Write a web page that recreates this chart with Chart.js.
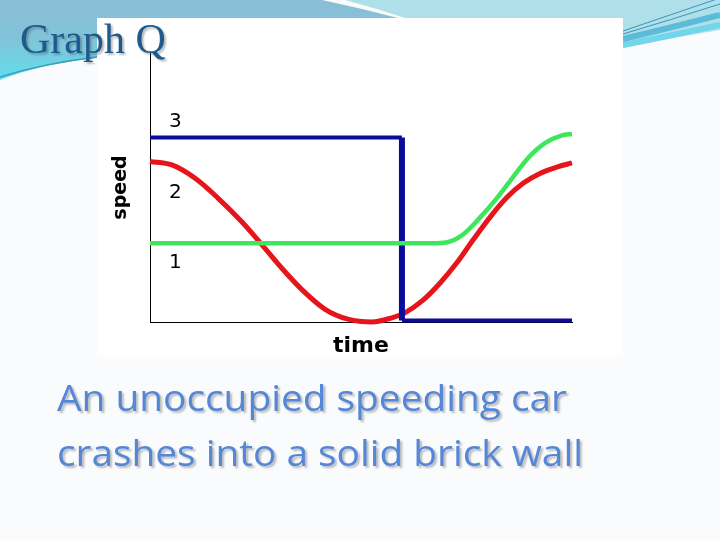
<!DOCTYPE html>
<html>
<head>
<meta charset="utf-8">
<script src="https://cdn.jsdelivr.net/npm/chart.js@4.4.1/dist/chart.umd.min.js"></script>
<style>
html,body{margin:0;padding:0;width:720px;height:540px;overflow:hidden;background:#fafbfc;}
#wrap{position:relative;width:720px;height:540px;}
#c{position:absolute;left:0;top:0;}
#title{position:absolute;left:20px;top:18px;font-family:"Liberation Serif","Times New Roman",serif;font-size:42px;line-height:42px;color:#1f5a8e;text-shadow:2px 2px 2px rgba(60,60,60,0.35);white-space:nowrap;}
#caption{position:absolute;left:57px;top:370px;font-family:"Open Sans",Lato,sans-serif;font-weight:500;font-size:36px;line-height:55px;color:#5587d8;text-shadow:2px 2px 2px rgba(90,90,90,0.4);white-space:nowrap;}
#caption .ln{transform-origin:0 0;white-space:nowrap;}
#caption .ln span{display:inline-block;}
</style>
</head>
<body>
<div id="wrap">
<canvas id="c" width="720" height="540"></canvas>
<div id="title">Graph Q</div>
<div id="caption"><div class="ln"><span>An unoccupied speeding car</span></div><div class="ln"><span>crashes into a solid brick wall</span></div></div>
</div>
<script>
// ---- data ----
const redTime   = [0.00, 0.52, 1.07, 1.61, 2.18, 2.65, 3.13, 3.60, 4.15, 4.69, 5.26, 5.73, 6.04, 6.47, 6.87, 7.27, 7.65, 8.06, 8.46, 8.84, 9.24, 9.64, 10.00];
const redSpeed  = [2.28, 2.23, 2.04, 1.76, 1.42, 1.10, 0.76, 0.46, 0.18, 0.04, 0.00, 0.06, 0.13, 0.31, 0.55, 0.84, 1.16, 1.49, 1.77, 1.97, 2.11, 2.20, 2.26];
const greenTime  = [0.00, 6.70, 7.02, 7.39, 7.77, 8.18, 8.58, 8.96, 9.36, 9.76, 10.00];
const greenSpeed = [1.12, 1.12, 1.13, 1.23, 1.45, 1.73, 2.04, 2.33, 2.54, 2.65, 2.67];
const blueTime   = [0.00, 5.97, 5.97, 10.00];
const blueSpeed  = [2.62, 2.62, 0.02, 0.02];
const yTickValues = [1, 2, 3];
const xTitle = 'time';
const yTitle = 'speed';

function pts(xs, ys){ return xs.map((x,i)=>({x:x, y:ys[i]})); }

const bgPlugin = {
  id: 'slideBg',
  beforeDraw(chart){
    const ctx = chart.ctx;
    ctx.save();
    ctx.fillStyle = '#fafbfc';
    ctx.fillRect(0,0,720,540);
    let g = ctx.createLinearGradient(0,0,0,82);
    g.addColorStop(0,'#8bbdd6'); g.addColorStop(0.5,'#80c4da'); g.addColorStop(1,'#5fe0ee');
    ctx.fillStyle = g;
    ctx.beginPath();
    ctx.moveTo(0,0); ctx.lineTo(322,0);
    ctx.quadraticCurveTo(360,8,398,18);
    ctx.lineTo(97,18); ctx.lineTo(97,58);
    ctx.quadraticCurveTo(40,64,0,80);
    ctx.closePath(); ctx.fill();
    ctx.strokeStyle = '#3a9fbe'; ctx.lineWidth = 1.5;
    ctx.beginPath(); ctx.moveTo(0,77); ctx.quadraticCurveTo(45,63,97,57); ctx.stroke();
    ctx.fillStyle = '#afe0e9';
    ctx.beginPath();
    ctx.moveTo(345,0); ctx.lineTo(720,0); ctx.lineTo(720,30);
    ctx.quadraticCurveTo(670,38,623,48);
    ctx.lineTo(623,18); ctx.lineTo(405,18);
    ctx.quadraticCurveTo(375,8,345,0);
    ctx.closePath(); ctx.fill();
    ctx.lineCap = 'butt';
    ctx.strokeStyle = '#72d6ea'; ctx.lineWidth = 6;
    ctx.beginPath(); ctx.moveTo(623,45); ctx.quadraticCurveTo(670,36,720,25); ctx.stroke();
    ctx.strokeStyle = '#5bbbd9'; ctx.lineWidth = 6;
    ctx.beginPath(); ctx.moveTo(623,39); ctx.quadraticCurveTo(670,28,720,15); ctx.stroke();
    ctx.strokeStyle = '#3a94bb'; ctx.lineWidth = 1;
    ctx.beginPath(); ctx.moveTo(623,34); ctx.quadraticCurveTo(670,20,720,4); ctx.stroke();
    ctx.beginPath(); ctx.moveTo(623,31); ctx.quadraticCurveTo(670,15,720,-2); ctx.stroke();
    ctx.fillStyle = '#ffffff';
    ctx.fillRect(97,18,526,339);
    ctx.restore();
  }
};

new Chart(document.getElementById('c'), {
  type: 'scatter',
  data: {
    datasets: [
      { label:'green', data: pts(greenTime, greenSpeed), showLine:true, borderColor:'#3de65a', borderWidth:4.5,
        pointRadius:0, cubicInterpolationMode:'monotone', clip:false, order:0 },
      { label:'blue', data: pts(blueTime, blueSpeed), showLine:true, borderColor:'#0b0b9c', borderWidth:4,
        pointRadius:0, tension:0, clip:false, order:1,
        segment:{ borderWidth: c => c.p0DataIndex === 1 ? 6 : 4 } },
      { label:'red', data: pts(redTime, redSpeed), showLine:true, borderColor:'#e6151b', borderWidth:5,
        pointRadius:0, cubicInterpolationMode:'monotone', clip:false, order:2 }
    ]
  },
  options: {
    responsive:false, animation:false, devicePixelRatio:1,
    layout:{ padding:{ left:100, top:53, right:148, bottom:178 } },
    plugins:{ legend:{display:false}, tooltip:{enabled:false} },
    scales:{
      x:{
        type:'linear', min:0, max:10,
        grid:{display:false, drawTicks:false},
        border:{display:true, color:'#000', width:1},
        ticks:{display:false},
        title:{display:true, text:xTitle, color:'#000', font:{family:'DejaVu Sans', size:22, weight:'bold'}, padding:{top:0,bottom:3}},
        afterFit(s){ s.height = 40; }
      },
      y:{
        type:'linear', min:0, max:3.82,
        grid:{display:false, drawTicks:false},
        border:{display:true, color:'#000', width:1},
        ticks:{mirror:true, padding:19, labelOffset:11.5, color:'#000', font:{family:'DejaVu Sans', size:20}},
        afterBuildTicks(s){ s.ticks = yTickValues.map(v=>({value:v})); },
        title:{display:true, text:yTitle, color:'#000', font:{family:'DejaVu Sans', size:19, weight:'bold'}, padding:{top:10,bottom:0}},
        afterFit(s){ s.width = 50; }
      }
    }
  },
  plugins:[bgPlugin]
});

const targets = [510, 526];
document.querySelectorAll('#caption .ln').forEach((ln,i)=>{
  const w = ln.firstChild.getBoundingClientRect().width;
  if (w > 0) ln.style.transform = 'scaleX(' + (targets[i]/w) + ')';
});
</script>
</body>
</html>
